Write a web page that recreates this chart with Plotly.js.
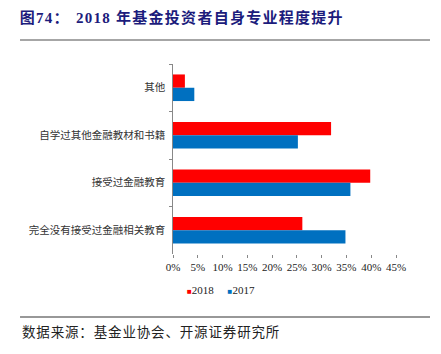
<!DOCTYPE html>
<html>
<head>
<meta charset="utf-8">
<script src="https://cdn.plot.ly/plotly-3.0.1.min.js"></script>
<style>
html,body{margin:0;padding:0;background:#fff;}
#chart{width:441px;height:354px;}
</style>
</head>
<body>
<div id="chart"></div>
<script>
const categories = ['其他', '自学过其他金融教材和书籍', '接受过金融教育', '完全没有接受过金融相关教育'];
const values2018 = [0.024, 0.319, 0.398, 0.261];
const values2017 = [0.043, 0.252, 0.358, 0.348];
const seriesNames = ['2018', '2017'];
const seriesColors = ['#FF0000', '#0070C0'];
const xTickVals = [0, 0.05, 0.10, 0.15, 0.20, 0.25, 0.30, 0.35, 0.40, 0.45];
const titleText = '图74：';
const titleRest = '2018 年基金投资者自身专业程度提升';
const sourceText = '数据来源：基金业协会、开源证券研究所';

const serif = 'Liberation Serif, Times New Roman, Noto Sans CJK SC, serif';
const cjk = 'Noto Sans CJK SC, Liberation Serif, serif';
const HS = '\u200A';
const spaced = s => s.split('').join(HS);

const traces = [
  {type: 'bar', orientation: 'h', name: seriesNames[0], y: categories, x: values2018,
   marker: {color: seriesColors[0]}, hoverinfo: 'none', showlegend: false},
  {type: 'bar', orientation: 'h', name: seriesNames[1], y: categories, x: values2017,
   marker: {color: seriesColors[1]}, hoverinfo: 'none', showlegend: false}
];

const legendText = seriesNames.map((n, i) =>
  `<span style="color:${seriesColors[i]};font-size:8px">■</span>${n}`).join('&nbsp;&nbsp;&nbsp;&nbsp;&nbsp;');

const layout = {
  width: 441, height: 354,
  margin: {l: 173, r: 45, t: 64, b: 100, pad: 0},
  paper_bgcolor: '#fff', plot_bgcolor: '#fff',
  barmode: 'group', bargap: 0.44, bargroupgap: 0,
  showlegend: false,
  title: {text: '<b>' + spaced(titleText) + '&nbsp;&nbsp;' + spaced(titleRest) + '</b>', x: 0.045, xanchor: 'left', xref: 'container',
          y: 0.949, yanchor: 'middle', yref: 'container',
          font: {family: 'Liberation Serif, Noto Sans CJK SC, serif', size: 15, color: '#1c1c7c'}},
  xaxis: {range: [0, 0.45], tickvals: xTickVals, tickformat: '.0%', showgrid: false, zeroline: false,
          showline: false, ticks: 'outside', ticklen: 3, tickcolor: '#888', tickwidth: 1,
          tickfont: {family: serif, size: 11, color: '#222'}, fixedrange: true},
  yaxis: {type: 'category', autorange: 'reversed', showgrid: false, zeroline: false,
          showline: true, linecolor: '#888', linewidth: 1, ticks: 'outside', tickson: 'boundaries',
          ticklen: 3, tickcolor: '#888', ticksuffix: '  ',
          tickfont: {family: cjk, size: 10.5, color: '#333'}, fixedrange: true},
  shapes: [
    {type: 'line', xref: 'paper', yref: 'paper', x0: -0.686, x1: 1.1525, y0: 1.1263, y1: 1.1263,
     line: {color: '#888', width: 1.5}},
    {type: 'line', xref: 'paper', yref: 'paper', x0: -0.686, x1: 1.1525, y0: -0.3316, y1: -0.3316,
     line: {color: '#333', width: 1.2}}
  ],
  annotations: [
    {text: spaced(sourceText), xref: 'paper', yref: 'paper', x: -0.686, y: -0.405,
     xanchor: 'left', yanchor: 'middle', showarrow: false,
     font: {family: cjk, size: 13.5, color: '#222'}},
    {text: legendText, xref: 'paper', yref: 'paper', x: 0.215, y: -0.19,
     xanchor: 'center', yanchor: 'middle', showarrow: false,
     font: {family: serif, size: 11, color: '#222'}}
  ]
};

Plotly.newPlot('chart', traces, layout, {staticPlot: true, displayModeBar: false});
</script>
</body>
</html>
